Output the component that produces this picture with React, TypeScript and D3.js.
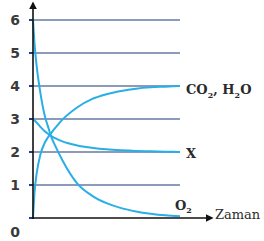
import { useEffect, useRef } from "react";
import * as d3 from "d3";

// time steps (arbitrary units) and concentrations
const times = [0, 0.1, 0.25, 0.5, 0.8, 1, 1.25, 1.5, 2, 3, 4, 5, 6, 7, 8, 9, 10];
const co2 = [0, 0.75, 1.35, 1.92, 2.28, 2.43, 2.58, 2.72, 2.98, 3.35, 3.6, 3.75, 3.85, 3.92, 3.96, 3.98, 4.0];
const xSeries = [3.0, 2.96, 2.89, 2.76, 2.63, 2.56, 2.48, 2.42, 2.32, 2.2, 2.13, 2.08, 2.05, 2.03, 2.02, 2.01, 2.0];
const o2 = [6.0, 5.3, 4.6, 3.8, 3.1, 2.8, 2.45, 2.2, 1.75, 1.05, 0.68, 0.45, 0.3, 0.2, 0.13, 0.08, 0.05];
const yTicks = [0, 1, 2, 3, 4, 5, 6];

const App = () => {
  const svgRef = useRef(null);

  useEffect(() => {
    const svg = d3.select(svgRef.current);
    svg.selectAll("*").remove();
    const width = 264;
    const height = 241;
    const x0 = 33;

    svg.attr("width", width).attr("height", height);

    const xScale = d3.scaleLinear().domain([0, 10]).range([x0, 180]);
    const yScale = d3.scaleLinear().domain([0, 6]).range([218, 20]);

    const defs = svg.append("defs");
    defs
      .append("marker")
      .attr("id", "arr")
      .attr("viewBox", "0 0 10 10")
      .attr("refX", 8)
      .attr("refY", 5)
      .attr("markerWidth", 5)
      .attr("markerHeight", 5)
      .attr("orient", "auto")
      .append("path")
      .attr("d", "M0,0 L10,5 L0,10 z")
      .attr("fill", "#111");

    // gridlines
    svg
      .append("g")
      .selectAll("line")
      .data(yTicks.filter((d) => d > 0))
      .join("line")
      .attr("x1", x0)
      .attr("x2", 180)
      .attr("y1", (d) => yScale(d))
      .attr("y2", (d) => yScale(d))
      .attr("stroke", "#8d9bbb")
      .attr("stroke-width", 2);

    // tick marks
    svg
      .append("g")
      .selectAll("line")
      .data(yTicks)
      .join("line")
      .attr("x1", x0 - 4)
      .attr("x2", x0)
      .attr("y1", (d) => yScale(d))
      .attr("y2", (d) => yScale(d))
      .attr("stroke", "#1d3f8a")
      .attr("stroke-width", 2);

    svg
      .append("g")
      .selectAll("text")
      .data(yTicks)
      .join("text")
      .attr("x", 15)
      .attr("y", (d) => (d === 0 ? 232 : yScale(d)))
      .attr("dy", "0.36em")
      .attr("text-anchor", "middle")
      .attr("font-family", "DejaVu Sans")
      .attr("font-weight", "bold")
      .attr("font-size", 14)
      .attr("fill", "#3a3a3a")
      .text((d) => d);

    const line = d3
      .line<number>()
      .x((_, i) => xScale(times[i]))
      .curve(d3.curveMonotoneX);

    [co2, xSeries, o2].forEach((series) => {
      svg
        .append("path")
        .datum(series)
        .attr("fill", "none")
        .attr("stroke", "#2aaee6")
        .attr("stroke-width", 2)
        .attr("d", line.y((d) => yScale(d))(series));
    });

    // axes
    svg
      .append("line")
      .attr("x1", x0)
      .attr("x2", x0)
      .attr("y1", 219)
      .attr("y2", 3)
      .attr("stroke", "#111")
      .attr("stroke-width", 1.6)
      .attr("marker-end", "url(#arr)");
    svg
      .append("line")
      .attr("x1", x0 - 1)
      .attr("x2", 212)
      .attr("y1", 218)
      .attr("y2", 218)
      .attr("stroke", "#111")
      .attr("stroke-width", 1.6)
      .attr("marker-end", "url(#arr)");

    const lab = svg
      .append("g")
      .attr("font-family", "DejaVu Serif")
      .attr("font-weight", "bold")
      .attr("fill", "#2a2a2a")
      .attr("font-size", 13);

    const co2Text = lab.append("text").attr("x", 186).attr("y", yScale(4) + 8);
    co2Text.append("tspan").text("CO");
    co2Text.append("tspan").attr("font-size", 8).attr("dy", 4).text("2");
    co2Text.append("tspan").attr("dy", -4).text(", H");
    co2Text.append("tspan").attr("font-size", 8).attr("dy", 4).text("2");
    co2Text.append("tspan").attr("dy", -4).text("O");

    lab.append("text").attr("x", 186).attr("y", yScale(2) + 6).text("X");

    const o2Text = lab.append("text").attr("x", 175).attr("y", 210);
    o2Text.append("tspan").text("O");
    o2Text.append("tspan").attr("font-size", 8).attr("dy", 3).text("2");

    lab
      .append("text")
      .attr("x", 215)
      .attr("y", 219)
      .attr("font-weight", "normal")
      .attr("font-size", 13)
      .text("Zaman");
  }, []);

  return (
    <svg
      ref={svgRef}
      style={{ position: "absolute", left: 0, top: 0, display: "block" }}
    ></svg>
  );
};

export default App;
